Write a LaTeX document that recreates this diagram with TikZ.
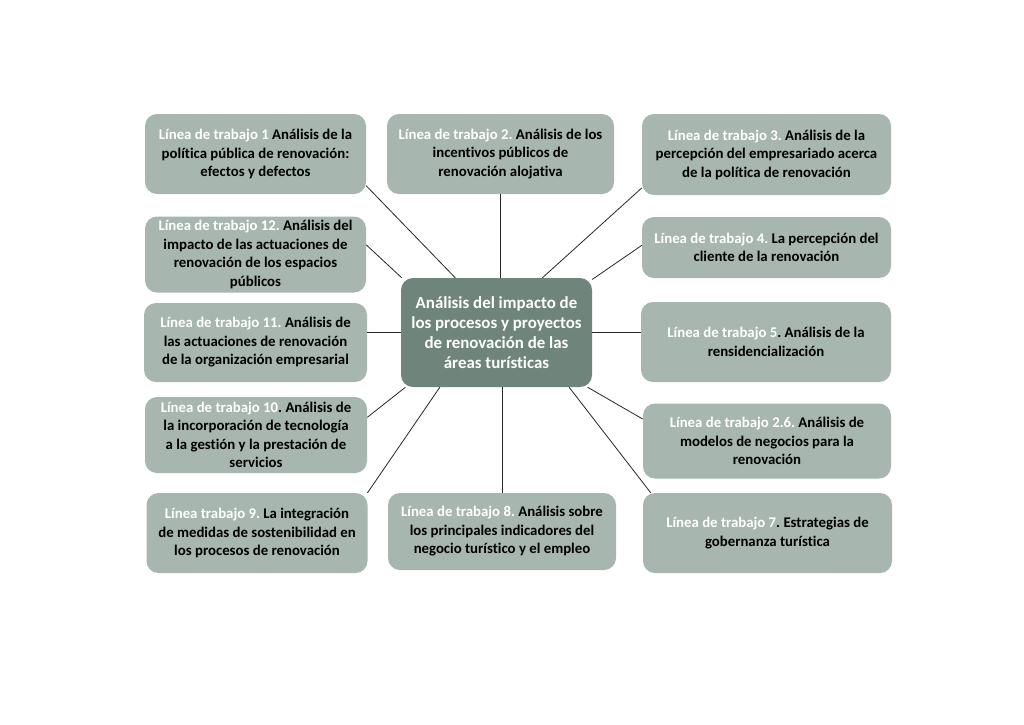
\documentclass[tikz,border=0pt]{standalone}
\usepackage{fontspec}
\setmainfont{Carlito}[Ligatures=NoCommon]
\usepackage{tikz}
\frenchspacing
\definecolor{boxgreen}{HTML}{A7B6AE}
\definecolor{hubgreen}{HTML}{6F857B}
\tikzstyle{block} = [rectangle, fill=boxgreen, rounded corners=12pt,
                 align=center, inner sep=2pt,
                 font=\bfseries\fontsize{14.8}{18.5}\selectfont]
\tikzstyle{hub} = [block, fill=hubgreen, text=white,
                 font=\bfseries\fontsize{16.9}{20}\selectfont]
\tikzstyle{branch} = [draw, line width=0.8pt, black!85]
\tikzset{
	boxsize/.style 2 args={minimum width=#1, minimum height=#2},
}
\newcommand{\linea}[1]{\textcolor{white}{#1}}

\begin{document}
\begin{tikzpicture}[x=1pt, y=-1pt]
\useasboundingbox[fill=white] (0,0) rectangle (1024,724);

% centre
\node [hub, boxsize={191pt}{109pt}] at (496.5,332.5) (c)
	{Análisis del impacto de\\los procesos y proyectos\\de renovación de las\\áreas turísticas};

% left column
\node [block, boxsize={221pt}{80pt}] at (255.5,154) (b1)
	{\linea{Línea de trabajo 1} Análisis de la\\política pública de renovación:\\efectos y defectos};
\node [block, boxsize={221pt}{76pt}] at (255.5,254.5) (b12)
	{\linea{Línea de trabajo 12.} Análisis del\\impacto de las actuaciones de\\renovación de los espacios\\públicos};
\node [block, boxsize={223pt}{79pt}] at (255.5,342.5) (b11)
	{\linea{Línea de trabajo 11.} Análisis de\\las actuaciones de renovación\\de la organización empresarial};
\node [block, boxsize={222pt}{76pt}] at (256,435) (b10)
	{\linea{Línea de trabajo 10}. Análisis de\\la incorporación de tecnología\\a la gestión y la prestación de\\servicios};
\node [block, boxsize={221pt}{80pt}] at (257,533) (b9)
	{\linea{Línea trabajo 9.} La integración\\de medidas de sostenibilidad en\\los procesos de renovación};

% middle column
\node [block, boxsize={227pt}{80pt}] at (500.5,154) (b2)
	{\linea{Línea de trabajo 2.} Análisis de los\\incentivos públicos de\\renovación alojativa};
\node [block, boxsize={228pt}{77pt}] at (502,531.5) (b8)
	{\linea{Línea de trabajo 8.} Análisis sobre\\los principales indicadores del\\negocio turístico y el empleo};

% right column
\node [block, boxsize={249pt}{81pt}] at (766.5,154.5) (b3)
	{\linea{Línea de trabajo 3.} Análisis de la\\percepción del empresariado acerca\\de la política de renovación};
\node [block, boxsize={249pt}{61pt}] at (766.5,247.5) (b4)
	{\linea{Línea de trabajo 4.} La percepción del\\cliente de la renovación};
\node [block, boxsize={250pt}{80pt}] at (766,342) (b5)
	{\linea{Línea de trabajo 5}. Análisis de la\\rensidencialización};
\node [block, boxsize={248pt}{75pt}] at (767,441) (b26)
	{\linea{Línea de trabajo 2.6.} Análisis de\\modelos de negocios para la\\renovación};
\node [block, boxsize={249pt}{80pt}] at (767.5,533) (b7)
	{\linea{Línea de trabajo 7}. Estrategias de\\gobernanza turística};

% branches
\path[branch] (b1.-16) -- (c.127);
\path[branch] (b2.south) -- (b2.south |- c.north);
\path[branch] (b3.-165) -- (c.50);
\path[branch] (b12.5) -- (c.150);
\path[branch] (b4.179) -- (c.29);
\path[branch] (b11.east |- c.west) -- (c.west);
\path[branch] (c.east) -- (c.east -| b5.west);
\path[branch] (b10.9) -- (c.211);
\path[branch] (b26.170) -- (c.-31);
\path[branch] (b9.20) -- (c.-136);
\path[branch] (b8.north) -- (b8.north |- c.south);
\path[branch] (b7.161) -- (c.-37);

\end{tikzpicture}
\end{document}
